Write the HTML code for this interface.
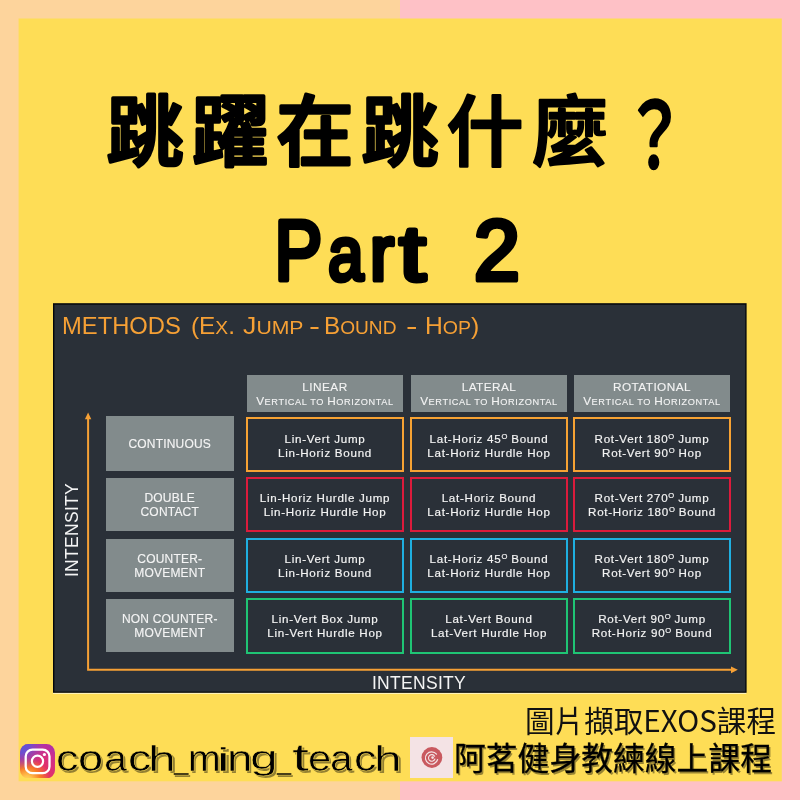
<!DOCTYPE html>
<html lang="zh-Hant">
<head>
<meta charset="utf-8">
<title>跳躍在跳什麼？ Part 2</title>
<style>
html,body{margin:0;padding:0;}
body{width:800px;height:800px;position:relative;overflow:hidden;background:linear-gradient(to right,#fdd49c 0,#fdd49c 400px,#fec1c6 400px,#fec1c6 800px);font-family:"Liberation Sans","Noto Sans CJK TC",sans-serif;}
.abs{position:absolute;will-change:transform;}
#card{left:0;top:0;}
#title{left:0;top:60px;font-family:"Noto Sans CJK TC","Liberation Sans",sans-serif;font-weight:500;font-size:77px;fill:#000;stroke:#000;stroke-linejoin:round;stroke-linecap:round;letter-spacing:8px;}
#title .hv{stroke-width:3.4px;}
#title .lt{stroke-width:2.4px;}
#title .q{stroke-width:2.4px;font-size:89.7px;letter-spacing:0;}
#part{left:0;top:190px;font-family:"Liberation Sans",sans-serif;font-weight:400;font-size:88px;fill:#000;stroke:#000;stroke-width:5.2px;stroke-linejoin:round;stroke-linecap:round;}
#panel{left:0;top:0;}
#ptitle{left:0;top:311px;height:30px;line-height:30px;white-space:nowrap;font-size:0;color:#f6a035;font-family:"Liberation Sans",sans-serif;}
#ptitle span{display:inline-block;font-size:23.4px;line-height:30px;transform-origin:0 50%;position:relative;white-space:nowrap;}
#ptitle small{font-size:18.5px;text-transform:uppercase;}
#ptitle .d{font-size:21px;font-weight:700;top:-1.2px;}
.hd{-webkit-text-stroke:.1px #f4f4f4;background:#828b8c;color:#f4f4f4;text-align:center;font-size:11.8px;line-height:14px;top:375px;height:37px;box-sizing:border-box;padding-top:5px;white-space:nowrap;letter-spacing:.45px;}
.hd small{font-size:9.2px;letter-spacing:.62px;text-transform:uppercase;}
.rl{box-sizing:border-box;padding-top:1.4px;-webkit-text-stroke:.15px #f4f4f4;background:#828b8c;color:#f4f4f4;text-align:center;letter-spacing:.2px;font-size:12px;line-height:14px;left:106px;width:127.5px;display:flex;align-items:center;justify-content:center;white-space:nowrap;}
.cell{padding-top:1px;-webkit-text-stroke:.18px #f4f4f4;box-sizing:border-box;border:2px solid;color:#f4f4f4;text-align:center;letter-spacing:.72px;font-size:11.6px;line-height:14px;display:flex;align-items:center;justify-content:center;white-space:nowrap;}
.cell sup{font-size:7.6px;line-height:0;vertical-align:4px;letter-spacing:0;}
.o{border-color:#f7a233;}.r{border-color:#dc1b3c;}.b{border-color:#1fafe0;}.g{border-color:#1fc474;}
.c1{left:246px;width:158px;}.c2{left:410px;width:158px;}.c3{left:573px;width:158px;}
.r1{top:417px;height:55px;padding-top:3px;}.r2{top:477.2px;height:55px;}.r3{top:538.4px;height:54.6px;}.r4{top:598px;height:55.6px;}
#xlab{left:318.5px;top:673px;width:200px;text-align:center;color:#f4f4f4;font-size:17.5px;line-height:20px;letter-spacing:.3px;}
#ylab{left:-28.2px;top:520.3px;width:200px;text-align:center;color:#f4f4f4;font-size:17.5px;line-height:20px;letter-spacing:.3px;transform:rotate(-90deg);}
#cap{right:24.3px;top:699.8px;font-family:"Noto Sans CJK TC","Liberation Sans",sans-serif;font-size:29.6px;line-height:40px;color:#111;white-space:nowrap;}
#course{left:454px;top:734px;font-family:"Noto Sans CJK TC","Liberation Sans",sans-serif;font-weight:400;font-size:31.8px;line-height:44px;color:#000;white-space:nowrap;-webkit-text-stroke:.3px #000;text-shadow:1.5px 1.5px 0 rgba(0,0,0,.4);}
#logo{left:409.6px;top:736.6px;width:43px;height:41.4px;background:#f4e3e5;}
#handle{left:0;top:724px;height:70px;line-height:70px;font-family:"Liberation Sans",sans-serif;font-size:36px;color:#000;white-space:nowrap;-webkit-text-stroke:.5px #fedd56;text-shadow:1.5px 1.6px 0 rgba(0,0,0,.42);}
#handle span{display:inline-block;position:relative;transform-origin:0 50%;line-height:1;}
#ig{left:20px;top:743.6px;width:35px;height:34.4px;}
</style>
</head>
<body>
<svg id="card" class="abs" width="800" height="800" viewBox="0 0 800 800"><rect x="18.6" y="18.5" width="763.2" height="762.8" fill="#fedd56"/></svg>
<svg id="title" class="abs" width="800" height="130" viewBox="0 0 800 130"><text y="99.7"><tspan class="hv" x="106.5">跳躍在跳</tspan><tspan class="lt" x="446.5">什麼</tspan><tspan class="q" x="622.8" y="108.2" textLength="63.4" lengthAdjust="spacingAndGlyphs">？</tspan></text></svg>
<svg id="part" class="abs" width="800" height="110" viewBox="0 0 800 110"><text><tspan x="274.5" y="89.8" font-size="84.6" textLength="47.8" lengthAdjust="spacingAndGlyphs">P</tspan><tspan x="328.3" y="89.5" font-size="76.2" textLength="35.1" lengthAdjust="spacingAndGlyphs">a</tspan><tspan x="370.1" y="89.8" font-size="77.6" textLength="23.9" lengthAdjust="spacingAndGlyphs">r</tspan><tspan x="399.6" y="89.6" font-size="77.2" textLength="26.0" lengthAdjust="spacingAndGlyphs">t</tspan> <tspan x="474.1" y="89.6" font-size="85.0" textLength="45.8" lengthAdjust="spacingAndGlyphs">2</tspan></text></svg>

<svg id="panel" class="abs" width="800" height="800" viewBox="0 0 800 800">
  <rect x="53" y="692.4" width="693.3" height="1.5" fill="#fff6c4"/>
  <rect x="53" y="303.2" width="693.6" height="389.6" fill="#04060a"/>
  <rect x="54.4" y="304.7" width="690.9" height="386.9" fill="#2a3038"/>
</svg>
<div id="ptitle" class="abs"><span style="width:128.60px;margin-left:62.40px;transform:scaleX(1.0157);">METHODS</span> <span style="width:52.00px;transform:scaleX(1.0418);">(E<small>x</small>.</span> <span style="width:67.00px;transform:scaleX(1.1452);">J<small>ump</small></span> <span class="d" style="width:14.50px;transform:scaleX(0.7701);">–</span> <span style="width:82.50px;transform:scaleX(1.0343);">B<small>ound</small></span> <span class="d" style="width:17.70px;transform:scaleX(0.8128);">–</span> <span style="width:64.30px;transform:scaleX(1.0557);">H<small>op</small>)</span></div>

<div class="abs hd" style="left:247px;width:156px;">LINEAR<br>V<small>ertical to </small>H<small>orizontal</small></div>
<div class="abs hd" style="left:411px;width:156px;">LATERAL<br>V<small>ertical to </small>H<small>orizontal</small></div>
<div class="abs hd" style="left:574px;width:156px;">ROTATIONAL<br>V<small>ertical to </small>H<small>orizontal</small></div>

<div class="abs rl" style="top:416px;height:55px;">CONTINUOUS</div>
<div class="abs rl" style="top:478px;height:53px;">DOUBLE<br>CONTACT</div>
<div class="abs rl" style="top:538.6px;height:53.4px;">COUNTER-<br>MOVEMENT</div>
<div class="abs rl" style="top:599px;height:53.4px;">NON COUNTER-<br>MOVEMENT</div>

<div class="abs cell o c1 r1"><div>Lin-Vert Jump<br>Lin-Horiz Bound</div></div>
<div class="abs cell o c2 r1"><div>Lat-Horiz 45<sup>O</sup> Bound<br>Lat-Horiz Hurdle Hop</div></div>
<div class="abs cell o c3 r1"><div>Rot-Vert 180<sup>O</sup> Jump<br>Rot-Vert 90<sup>O</sup> Hop</div></div>

<div class="abs cell r c1 r2"><div>Lin-Horiz Hurdle Jump<br>Lin-Horiz Hurdle Hop</div></div>
<div class="abs cell r c2 r2"><div>Lat-Horiz Bound<br>Lat-Horiz Hurdle Hop</div></div>
<div class="abs cell r c3 r2"><div>Rot-Vert 270<sup>O</sup> Jump<br>Rot-Horiz 180<sup>O</sup> Bound</div></div>

<div class="abs cell b c1 r3"><div>Lin-Vert Jump<br>Lin-Horiz Bound</div></div>
<div class="abs cell b c2 r3"><div>Lat-Horiz 45<sup>O</sup> Bound<br>Lat-Horiz Hurdle Hop</div></div>
<div class="abs cell b c3 r3"><div>Rot-Vert 180<sup>O</sup> Jump<br>Rot-Vert 90<sup>O</sup> Hop</div></div>

<div class="abs cell g c1 r4"><div>Lin-Vert Box Jump<br>Lin-Vert Hurdle Hop</div></div>
<div class="abs cell g c2 r4"><div>Lat-Vert Bound<br>Lat-Vert Hurdle Hop</div></div>
<div class="abs cell g c3 r4"><div>Rot-Vert 90<sup>O</sup> Jump<br>Rot-Horiz 90<sup>O</sup> Bound</div></div>

<svg class="abs" style="left:0;top:0;" width="800" height="800" viewBox="0 0 800 800">
  <path d="M88.1 418 V669.8 H732" fill="none" stroke="#f6a035" stroke-width="2"/>
  <path d="M88.1 412.6 L91.3 419.3 H84.9 Z" fill="#f6a035"/>
  <path d="M737.8 669.8 L731 666.4 V673.2 Z" fill="#f6a035"/>
</svg>
<div id="xlab" class="abs">INTENSITY</div>
<div id="ylab" class="abs">INTENSITY</div>

<div id="cap" class="abs">圖片擷取EXOS課程</div>
<div id="logo" class="abs"><svg width="43" height="41.4" viewBox="0 0 43 41.4"><circle cx="21.9" cy="20.5" r="10.4" fill="#c9595f"/><path d="M26.5 17.2 A6.2 6.2 0 1 0 27.6 22.5" fill="none" stroke="#f4e3e5" stroke-width="1.2" stroke-linecap="round"/><path d="M24.6 19.2 A3.3 3.3 0 1 0 24.9 22" fill="none" stroke="#f4e3e5" stroke-width="1.1" stroke-linecap="round"/><circle cx="22.6" cy="20.6" r="1.3" fill="#f4e3e5"/></svg></div>
<div id="course" class="abs">阿茗健身教練線上課程</div>

<svg id="ig" class="abs" viewBox="0 0 35 34.4">
  <defs>
    <radialGradient id="igg" cx="0.2" cy="1.08" r="1.6">
      <stop offset="0" stop-color="#ffdc63"/>
      <stop offset="0.1" stop-color="#ffc24d"/>
      <stop offset="0.25" stop-color="#f87a26"/>
      <stop offset="0.42" stop-color="#e2306a"/>
      <stop offset="0.62" stop-color="#cf2f8a"/>
      <stop offset="0.85" stop-color="#a030b8"/>
      <stop offset="1" stop-color="#8a3ac8"/>
    </radialGradient>
    <radialGradient id="igb" cx="0" cy="0" r="0.75">
      <stop offset="0" stop-color="#4f5be0"/>
      <stop offset="0.35" stop-color="#5b55de" stop-opacity="0.85"/>
      <stop offset="1" stop-color="#7a45d2" stop-opacity="0"/>
    </radialGradient>
  </defs>
  <rect x="0" y="0" width="35" height="34.4" rx="8.5" fill="url(#igg)"/>
  <rect x="0" y="0" width="35" height="34.4" rx="8.5" fill="url(#igb)"/>
  <rect x="5.7" y="5.6" width="23.8" height="23.6" rx="6.8" fill="none" stroke="#fff" stroke-width="2.3"/>
  <circle cx="17.5" cy="17.3" r="5.6" fill="none" stroke="#fff" stroke-width="2.2"/>
  <circle cx="24.4" cy="10.5" r="1.6" fill="#fff"/>
</svg>
<div id="handle" class="abs"><span style="width:22.34px;font-size:36.73px;transform:scaleX(1.225);top:0.25px;margin-left:56.13px;">c</span><span style="width:25.11px;font-size:36.73px;transform:scaleX(1.230);top:0.25px;">o</span><span style="width:24.23px;font-size:36.73px;transform:scaleX(1.122);top:0.25px;">a</span><span style="width:20.18px;font-size:36.73px;transform:scaleX(1.261);top:0.25px;">c</span><span style="width:26.45px;font-size:35.15px;transform:scaleX(1.426);top:0.25px;">h</span><span style="width:13.20px;font-size:31.67px;transform:scaleX(0.830);top:-1.82px;">_</span><span style="width:28.80px;font-size:36.73px;transform:scaleX(1.070);top:0.25px;">m</span><span style="width:10.69px;font-size:33.79px;transform:scaleX(1.912);top:0.25px;">i</span><span style="width:23.24px;font-size:36.73px;transform:scaleX(1.245);top:0.25px;">n</span><span style="width:27.04px;font-size:32.63px;transform:scaleX(1.524);top:-2.02px;">g</span><span style="width:14.61px;font-size:31.67px;transform:scaleX(0.809);top:-1.82px;">_</span><span style="width:16.37px;font-size:39.37px;transform:scaleX(1.555);top:0.25px;">t</span><span style="width:21.61px;font-size:36.73px;transform:scaleX(1.135);top:0.25px;">e</span><span style="width:24.28px;font-size:36.73px;transform:scaleX(1.105);top:0.25px;">a</span><span style="width:19.42px;font-size:36.73px;transform:scaleX(1.219);top:0.25px;">c</span><span style="width:30.00px;font-size:35.15px;transform:scaleX(1.419);top:0.25px;">h</span></div>
</body>
</html>
